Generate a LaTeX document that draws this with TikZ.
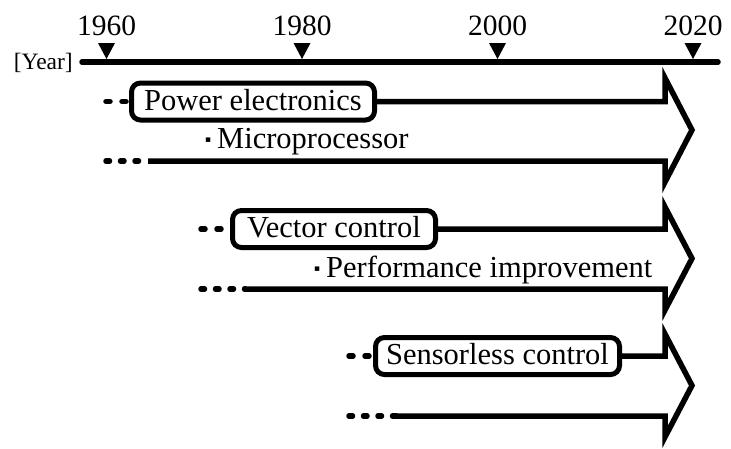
\documentclass[tikz,border=0pt]{standalone}
\usepackage{fontspec}
\setmainfont{Liberation Serif}
\newfontfamily\symfont{DejaVu Sans}
\usetikzlibrary{calc}

\tikzset{
  lbl/.style={font=\fontsize{30.5}{36}\selectfont, inner sep=0pt},
  yearlbl/.style={font=\fontsize{29.5}{35}\selectfont, inner sep=0pt, anchor=base},
  unitlbl/.style={font=\fontsize{23.5}{28}\selectfont, inner sep=0pt, anchor=east},
  techbox/.style={draw, line width=5pt, rounded corners=9pt, inner sep=0pt,
    font=\fontsize{30.5}{36}\selectfont, text height=20pt, text depth=3pt},
  axisline/.style={line width=5.5pt, line cap=round},
  bandline/.style={line width=5.5pt, line join=miter},
  leadup/.style={line width=5.5pt, line cap=round, dash pattern=on 4pt off 12pt},
  leadlow/.style={line width=5.5pt, line cap=round, dash pattern=on 3.5pt off 11pt},
  tickmark/.style={fill=black},
}
\newcommand{\sqbullet}{\makebox[12pt][l]{\raisebox{5.5pt}{\symfont\fontsize{9}{9}\selectfont ▪}}}

\begin{document}
\begin{tikzpicture}[x=1pt, y=-1pt]
  \useasboundingbox (0,0) rectangle (731,448);

  % time axis
  \coordinate (ax0) at (82,62);
  \coordinate (ax1) at (718,62);
  \draw[axisline] (ax0) -- (ax1);
  \node[unitlbl] (unit) at (73,63) {[Year]};
  \foreach \yr/\xx in {1960/106.5, 1980/302, 2000/497.5, 2020/693} {
    \fill[tickmark] (\xx-8.5,43) -- (\xx+8.5,43) -- (\xx,59) -- cycle;
    \node[yearlbl] (y\yr) at (\xx,35) {\yr};
  }

  % ---- Power electronics ----
  \node[techbox, minimum width=243pt, minimum height=37pt] (pe) at (253,101.5) {Power electronics};
  \node[lbl, anchor=base west] (mp) at (205,148) {\sqbullet Microprocessor};
  \coordinate (pe-d0) at (106,101.5);
  \coordinate (pe-l0) at (106,161);
  \coordinate (pe-l1) at (148,161);
  \draw[leadup] (pe-d0) -- (pe.west);
  \draw[leadlow] (pe-l0) -- (pe-l1);
  \draw[bandline] (pe.east) -- (665,101.5) -- (665,78) -- (692,130) -- (665,182) -- (665,161) -- (pe-l1);

  % ---- Vector control ----
  \node[techbox, minimum width=203pt, minimum height=37pt] (vc) at (334,229) {Vector control};
  \node[lbl, anchor=base west] (pi) at (314,277) {\sqbullet Performance improvement};
  \coordinate (vc-d0) at (201,229);
  \coordinate (vc-l0) at (201,289);
  \coordinate (vc-l1) at (245,289);
  \draw[leadup] (vc-d0) -- (vc.west);
  \draw[leadlow] (vc-l0) -- (vc-l1);
  \draw[bandline] (vc.east) -- (665,229) -- (665,207) -- (692,258.5) -- (665,310) -- (665,289) -- (vc-l1);

  % ---- Sensorless control ----
  \node[techbox, minimum width=244pt, minimum height=37pt] (sc) at (497.5,356) {Sensorless control};
  \coordinate (sc-d0) at (349,356);
  \coordinate (sc-l0) at (349,416);
  \coordinate (sc-l1) at (396,416);
  \draw[leadup] (sc-d0) -- (sc.west);
  \draw[leadlow] (sc-l0) -- (sc-l1);
  \draw[bandline] (sc.east) -- (665,356) -- (665,334) -- (692,385.5) -- (665,437) -- (665,416) -- (sc-l1);
\end{tikzpicture}
\end{document}
